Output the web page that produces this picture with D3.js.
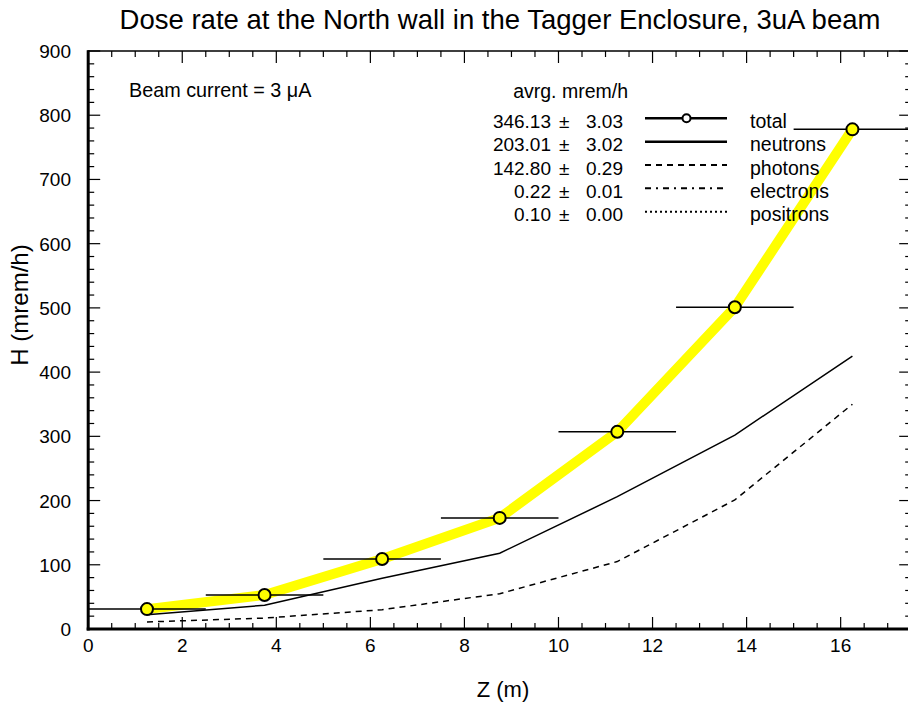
<!DOCTYPE html>
<html><head><meta charset="utf-8">
<script src="https://cdn.jsdelivr.net/npm/d3@7"></script>
<style>body{margin:0;background:#fff}svg{display:block}text{font-family:"Liberation Sans",Arial,sans-serif}</style>
</head><body><svg id="c" width="908" height="702"></svg>
<script>
const zBins = [1.25, 3.75, 6.25, 8.75, 11.25, 13.75, 16.25];
const binHalfWidth = 1.25;
const total = [31, 53, 109, 173, 307, 501, 778];
const neutrons = [22, 37, 79, 118, 206, 302, 425];
const photons = [11, 17, 30, 55, 105, 201, 350];
const electrons = [0.1, 0.1, 0.2, 0.2, 0.3, 0.3, 0.4];
const positrons = [0.05, 0.05, 0.1, 0.1, 0.1, 0.15, 0.2];
const xTicks = [0, 2, 4, 6, 8, 10, 12, 14, 16];
const yTicks = [0, 100, 200, 300, 400, 500, 600, 700, 800, 900];
const legendNames = ["total", "neutrons", "photons", "electrons", "positrons"];
const legendAvg = ["346.13", "203.01", "142.80", "0.22", "0.10"];
const legendErr = ["3.03", "3.02", "0.29", "0.01", "0.00"];

const svg = d3.select("#c");
const L = 88.2, R = 911.2, T = 51, B = 629;
const x = d3.scaleLinear().domain([0, 17.5]).range([L, R]);
const y = d3.scaleLinear().domain([0, 900]).range([B, T]);

// title
svg.append("text").attr("x", 500).attr("y", 29).attr("text-anchor", "middle")
  .attr("font-size", 27.5).text("Dose rate at the North wall in the Tagger Enclosure, 3uA beam");

// frame
svg.append("rect").attr("x", L).attr("y", T).attr("width", R - L).attr("height", B - T)
  .attr("fill", "none").attr("stroke", "#000").attr("stroke-width", 1.5);

const g = svg.append("g");
const xMinor = d3.range(0, 17.51, 0.5);
const yMinor = d3.range(0, 901, 20);
xMinor.forEach(v => {
  const major = Math.abs(v % 2) < 1e-9;
  const len = major ? 12 : 6;
  g.append("line").attr("x1", x(v)).attr("x2", x(v)).attr("y1", B).attr("y2", B - len).attr("stroke", "#000").attr("stroke-width", 1.2);
  g.append("line").attr("x1", x(v)).attr("x2", x(v)).attr("y1", T).attr("y2", T + len).attr("stroke", "#000").attr("stroke-width", 1.2);
});
yMinor.forEach(v => {
  const major = v % 100 === 0;
  const len = major ? 12 : 6;
  g.append("line").attr("x1", L).attr("x2", L + len).attr("y1", y(v)).attr("y2", y(v)).attr("stroke", "#000").attr("stroke-width", 1.2);
  g.append("line").attr("x1", R).attr("x2", R - len).attr("y1", y(v)).attr("y2", y(v)).attr("stroke", "#000").attr("stroke-width", 1.2);
});
svg.append("line").attr("x1", L).attr("x2", L).attr("y1", T - 0.75).attr("y2", B + 1.5).attr("stroke", "#000").attr("stroke-width", 3);
svg.append("line").attr("x1", L - 1.5).attr("x2", R).attr("y1", B).attr("y2", B).attr("stroke", "#000").attr("stroke-width", 3);

// tick labels
xTicks.forEach(v => svg.append("text").attr("x", x(v)).attr("y", 652).attr("text-anchor", "middle").attr("font-size", 19).text(v));
yTicks.forEach(v => svg.append("text").attr("x", 71).attr("y", y(v) + 7).attr("text-anchor", "end").attr("font-size", 19).text(v));

// axis labels
svg.append("text").attr("x", 503).attr("y", 697).attr("text-anchor", "middle").attr("font-size", 22).text("Z (m)");
svg.append("text").attr("transform", "translate(28,305) rotate(-90)").attr("text-anchor", "middle").attr("font-size", 24).text("H (mrem/h)");

// annotation
svg.append("text").attr("x", 129).attr("y", 97).attr("font-size", 19.8).text("Beam current = 3 \u03bcA");

const line = d3.line().x((d, i) => x(zBins[i])).y(d => y(d));
const plot = svg.append("g");
plot.append("path").datum(total).attr("d", line).attr("fill", "none").attr("stroke", "#ffff00").attr("stroke-width", 10);
plot.append("path").datum(neutrons).attr("d", line).attr("fill", "none").attr("stroke", "#000").attr("stroke-width", 1.5);
plot.append("path").datum(photons).attr("d", line).attr("fill", "none").attr("stroke", "#000").attr("stroke-width", 1.5).attr("stroke-dasharray", "6,5");
plot.append("path").datum(electrons).attr("d", line).attr("fill", "none").attr("stroke", "#000").attr("stroke-width", 1.5).attr("stroke-dasharray", "6,4,2,4");
plot.append("path").datum(positrons).attr("d", line).attr("fill", "none").attr("stroke", "#000").attr("stroke-width", 1.5).attr("stroke-dasharray", "2,3");
total.forEach((v, i) => {
  plot.append("line").attr("x1", x(zBins[i] - binHalfWidth)).attr("x2", x(zBins[i] + binHalfWidth))
    .attr("y1", y(v)).attr("y2", y(v)).attr("stroke", "#000").attr("stroke-width", 1.5);
});
total.forEach((v, i) => {
  plot.append("circle").attr("cx", x(zBins[i])).attr("cy", y(v)).attr("r", 6)
    .attr("fill", "#ffff00").attr("stroke", "#000").attr("stroke-width", 2);
});

// legend
const leg = svg.append("g");
leg.append("text").attr("x", 628).attr("y", 98).attr("text-anchor", "end").attr("font-size", 19.5).text("avrg. mrem/h");
const dashes = [null, null, "6,5", "6,5,2,5", "2,3"];
legendNames.forEach((n, i) => {
  const yy = 118.3 + i * 23.35;
  leg.append("text").attr("x", 551).attr("y", yy + 9.5).attr("text-anchor", "end").attr("font-size", 19).text(legendAvg[i]);
  leg.append("text").attr("x", 559).attr("y", yy + 9.5).attr("font-size", 19).text("\u00b1");
  leg.append("text").attr("x", 623).attr("y", yy + 9.5).attr("text-anchor", "end").attr("font-size", 19).text(legendErr[i]);
  const l = leg.append("line").attr("x1", 645).attr("x2", 727).attr("y1", yy).attr("y2", yy)
    .attr("stroke", "#000").attr("stroke-width", i < 2 ? 2.5 : 2);
  if (dashes[i]) l.attr("stroke-dasharray", dashes[i]);
  if (i === 0) leg.append("circle").attr("cx", 686.5).attr("cy", yy).attr("r", 4).attr("fill", "#fff").attr("stroke", "#000").attr("stroke-width", 2);
  leg.append("text").attr("x", 750).attr("y", yy + 9.5).attr("font-size", 19.5).text(n);
});
</script></body></html>
